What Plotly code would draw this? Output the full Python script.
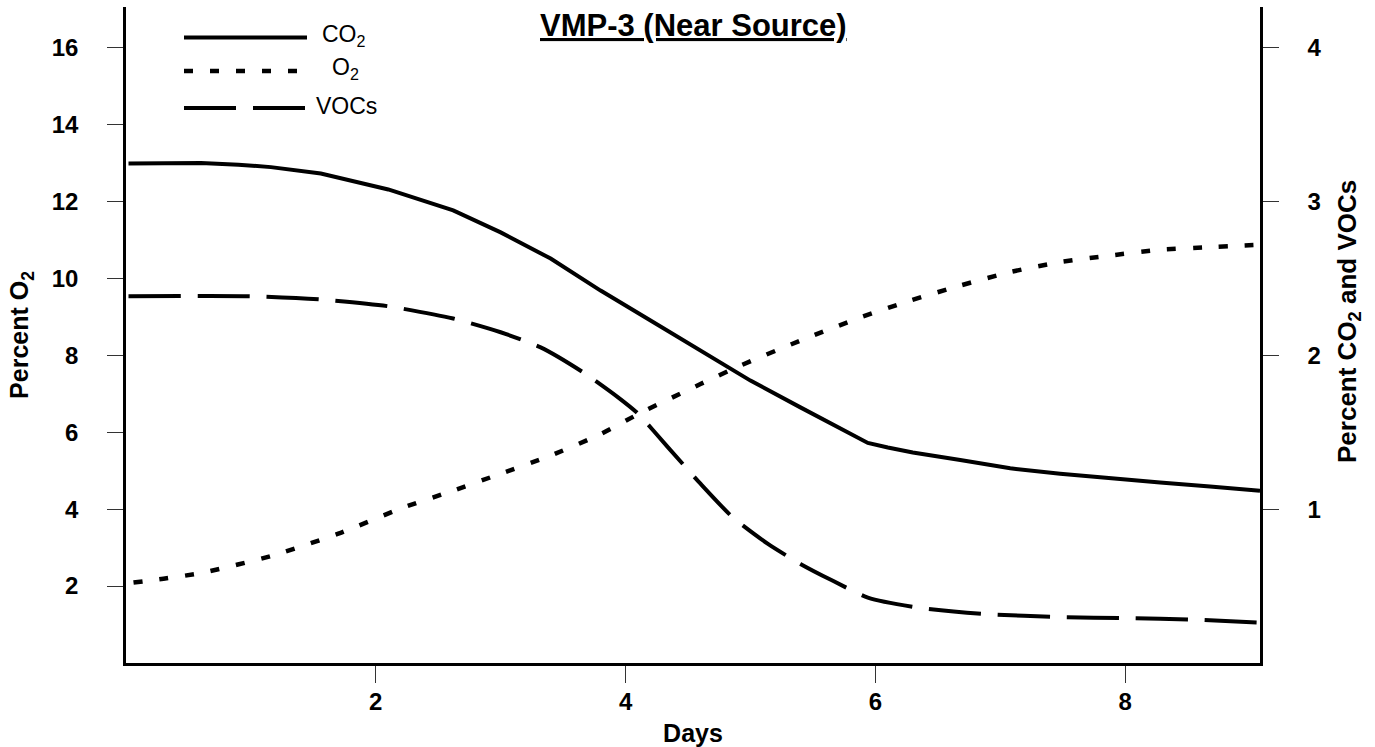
import plotly.graph_objects as go

# ---- data ----
days_co2 = [0.02, 0.3, 0.6, 0.9, 1.16, 1.56, 2.1, 2.62, 3.0, 3.4, 3.8, 4.2, 4.6, 5.0,
            5.4, 5.8, 5.94, 6.1, 6.3, 6.68, 7.08, 7.48, 7.88, 8.28, 8.68, 9.08]
co2 = [3.245, 3.25, 3.249, 3.238, 3.222, 3.181, 3.077, 2.941, 2.798, 2.628, 2.42, 2.225,
       2.03, 1.835, 1.661, 1.494, 1.43, 1.40, 1.368, 1.319, 1.265, 1.23, 1.20, 1.173, 1.147, 1.119]

days_o2 = [0.06, 0.3, 0.62, 1.16, 1.7, 2.22, 2.62, 3.0, 3.4, 3.8, 4.12, 4.6, 4.92, 5.4,
           5.88, 6.28, 6.68, 7.08, 7.48, 7.88, 8.28, 8.68, 9.08]
o2 = [2.09, 2.19, 2.35, 2.78, 3.36, 4.04, 4.48, 4.92, 5.39, 5.95, 6.5, 7.25, 7.73, 8.38,
      8.98, 9.42, 9.81, 10.16, 10.42, 10.59, 10.74, 10.81, 10.87]

days_voc = [0.02, 1.0, 1.56, 2.1, 2.62, 3.0, 3.32, 3.66, 3.94, 4.1, 4.34, 4.6, 4.86, 5.14,
            5.4, 5.66, 5.94, 6.34, 6.9, 7.48, 8.02, 8.54, 9.08]
vocs = [2.383, 2.383, 2.362, 2.318, 2.238, 2.149, 2.051, 1.889, 1.726, 1.62, 1.401, 1.165,
        0.945, 0.774, 0.644, 0.534, 0.425, 0.36, 0.317, 0.299, 0.291, 0.282, 0.262]

x_ticks = [2, 4, 6, 8]
left_ticks = [2, 4, 6, 8, 10, 12, 14, 16]
right_ticks = [1, 2, 3, 4]

series_names = ["CO<sub>2</sub>", "O<sub>2</sub>", "VOCs"]
title_text = "VMP-3 (Near Source)"
right_title = "Percent CO<sub>2</sub> and VOCs"

FONT = "Liberation Sans, Arial, sans-serif"
DOT = "9px,17px"
DASH = "52px,17px"

fig = go.Figure()
fig.add_trace(go.Scatter(x=days_co2, y=co2, mode="lines", yaxis="y2",
                         line=dict(color="black", width=4), name="CO2", showlegend=False))
fig.add_trace(go.Scatter(x=days_o2, y=o2, mode="lines", yaxis="y",
                         line=dict(color="black", width=4.5, dash=DOT, shape="spline", smoothing=0.6),
                         name="O2", showlegend=False))
fig.add_trace(go.Scatter(x=days_voc, y=vocs, mode="lines", yaxis="y2",
                         line=dict(color="black", width=4, dash=DASH, shape="spline", smoothing=0.6),
                         name="VOCs", showlegend=False))

L, R, T, B = 126, 115, 7, 84
W, H = 1375, 747
pw, ph = W - L - R, H - T - B


def px(xp):
    return (xp - L) / pw


def py(yp):
    return 1 - (yp - T) / ph


# manual legend (long sample lines as in original)
legend_rows = [
    (series_names[0], 37.5, None, 4, 322),
    (series_names[1], 71, DOT, 4.5, 332),
    (series_names[2], 108, DASH, 4, 316),
]
for name, yy, dash, w, tx in legend_rows:
    fig.add_shape(type="line", xref="paper", yref="paper",
                  x0=px(184), x1=px(307), y0=py(yy), y1=py(yy),
                  line=dict(color="black", width=w, dash=dash))
    fig.add_annotation(xref="paper", yref="paper", x=px(tx - 2), y=py(yy - 2),
                       xanchor="left", yanchor="middle", showarrow=False,
                       text=name, font=dict(family=FONT, size=23, color="black"))

fig.add_annotation(xref="paper", yref="paper", x=0.5, y=py(26), xanchor="center",
                   yanchor="middle", showarrow=False,
                   text="<u><b>" + title_text + "</b></u>",
                   font=dict(family=FONT, size=31, color="black"))

# right axis title (placed as annotation to match vertical position)
fig.add_annotation(xref="paper", yref="paper", x=px(1348), y=py(322), xanchor="center",
                   yanchor="middle", showarrow=False, textangle=-90,
                   text="<b>" + right_title + "</b>",
                   font=dict(family=FONT, size=26, color="black"))

tickfont = dict(family=FONT, size=24, color="black", weight="bold")
titlefont = dict(family=FONT, size=25, color="black", weight="bold")

fig.update_layout(
    width=W, height=H,
    margin=dict(l=L, r=R, t=T, b=B, autoexpand=False),
    paper_bgcolor="white", plot_bgcolor="white",
    xaxis=dict(range=[0, 9.08], tickvals=x_ticks, ticks="outside", ticklen=17,
               tickwidth=1.2, tickcolor="#333", showline=True, linecolor="black",
               linewidth=3, showgrid=False, zeroline=False, tickfont=tickfont,
               ticklabelstandoff=-2,
               title=dict(text="Days", font=titlefont, standoff=12)),
    yaxis=dict(range=[0, 17.05], tickvals=left_ticks, ticks="outside", ticklen=16,
               tickwidth=1.2, tickcolor="#333", showline=True, linecolor="black",
               linewidth=2.5, showgrid=False, zeroline=False, tickfont=tickfont,
               ticklabelstandoff=24,
               title=dict(text="Percent O<sub>2</sub>", font=titlefont, standoff=16)),
    yaxis2=dict(range=[0, 17.05 / 4], tickvals=right_ticks, ticks="outside", ticklen=16,
                tickwidth=1.2, tickcolor="#333", showline=True, linecolor="black",
                linewidth=2.5, showgrid=False, zeroline=False, tickfont=tickfont,
                overlaying="y", side="right", ticklabelstandoff=24),
)

fig.write_html(
    "out.html",
    config={"displayModeBar": False},
    post_script="document.body.style.margin='0';document.body.style.overflow='hidden';",
)
